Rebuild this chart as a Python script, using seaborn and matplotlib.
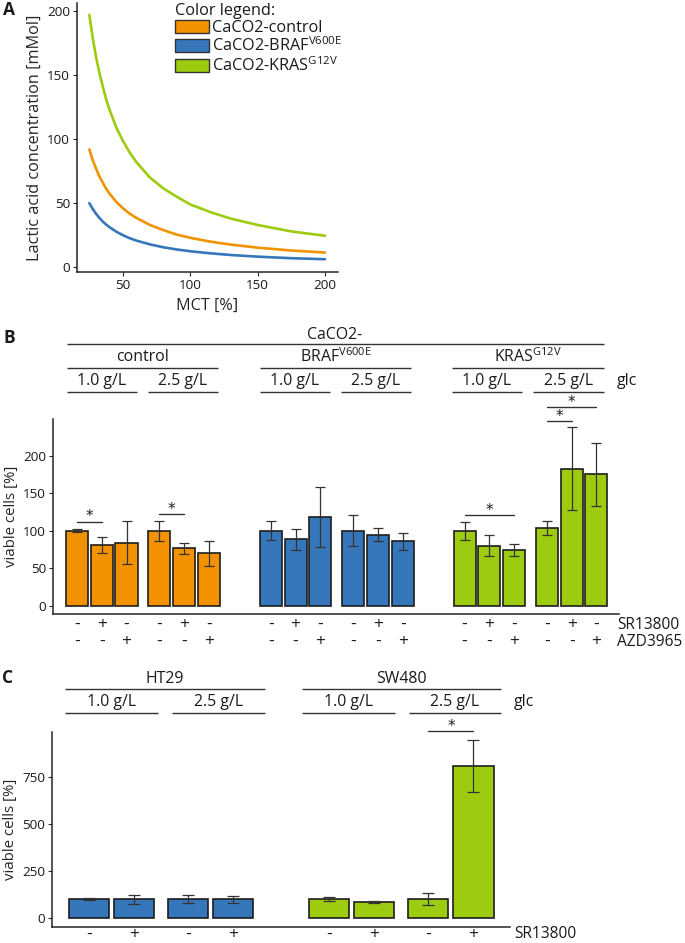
import numpy as np
import pandas as pd
import matplotlib
matplotlib.use("Agg")
import matplotlib.pyplot as plt
import matplotlib.transforms as mtrans
from matplotlib.patches import Patch
import seaborn as sns

# ---------------- data ----------------
# Panel A: lactic acid concentration vs MCT
mct = [25, 27.5, 30, 32.5, 35, 37.5, 40, 45, 50, 55, 60, 70, 80, 90, 100, 115, 130, 150, 175, 200]
lactate_control = [92, 83.6, 77, 70.8, 66, 61.3, 57.5, 51, 46, 41.8, 38.5, 33, 29, 25.5, 23, 20, 17.7, 15.3, 13.1, 11.5]
lactate_braf = [50, 45.5, 41.7, 38.5, 35.7, 33.3, 31.3, 27.8, 25, 22.7, 20.8, 17.9, 15.6, 13.9, 12.5, 10.9, 9.6, 8.3, 7.1, 6.3]
lactate_kras = [197, 179, 164, 151.5, 141, 131, 123, 109, 98.5, 89.5, 82, 70, 61.5, 55, 49, 43, 38, 33, 28, 24.6]
legend_labels = ["CaCO2-control", r"CaCO2-BRAF$^{\mathrm{V600E}}$", r"CaCO2-KRAS$^{\mathrm{G12V}}$"]

# Panel B: CaCO2 lines, 2 glucose levels x 3 treatments
lines_B = ["control", r"BRAF$^{\mathrm{V600E}}$", r"KRAS$^{\mathrm{G12V}}$"]
glc_levels = ["1.0 g/L", "2.5 g/L"]
sr13800_B = ["-", "+", "-"]
azd3965_B = ["-", "-", "+"]
viable_control = [100, 81, 84.5, 100, 77, 70]
sd_control = [2, 11, 29, 13, 7.5, 16.5]
viable_braf = [100, 89, 118.5, 100, 95, 86]
sd_braf = [12.5, 14, 40.5, 20.5, 9, 11]
viable_kras = [100, 80.5, 74.5, 104, 182.5, 175]
sd_kras = [12, 13.5, 7.5, 9, 55, 42.5]
# significant comparisons (bar indices within panel B)
sig_B = [(0, 1), (3, 4), (12, 14), (15, 16), (15, 17)]

# Panel C: HT29 and SW480
lines_C = ["HT29", "SW480"]
sr13800_C = ["-", "+"]
viable_ht29 = [100, 97, 99, 97]
sd_ht29 = [4, 23, 21, 18]
viable_sw480 = [100, 83, 99, 807]
sd_sw480 = [11, 7, 33, 140]
sig_C = [(6, 7)]

# ---------------- style ----------------
ORANGE, BLUE, GREEN = "#F39200", "#3677BC", "#9DCB10"
DARK = "#262626"
sns.set_style("ticks")
FONT = "Open Sans"
plt.rcParams["font.family"] = [FONT, "DejaVu Sans"]
plt.rcParams["mathtext.fontset"] = "custom"
plt.rcParams["mathtext.rm"] = FONT
plt.rcParams["mathtext.it"] = FONT + ":italic"
plt.rcParams["mathtext.bf"] = FONT + ":bold"
plt.rcParams["text.color"] = "#1a1a1a"

W, H = 685, 943
fig = plt.figure(figsize=(W / 100, H / 100), dpi=100)

LABEL = 11.7     # axis labels / legend
HEAD = 11.4      # header texts
TICK = 9.7       # tick labels
SIGN = 12.5      # +/- signs
DRUG = 11.2      # SR13800 / AZD3965


def box(x0, y0, x1, y1):
    return [x0 / W, 1 - y1 / H, (x1 - x0) / W, (y1 - y0) / H]


def fy(y):
    return 1 - y / H


def style_axes(ax):
    for s in ["top", "right"]:
        ax.spines[s].set_visible(False)
    for s in ["left", "bottom"]:
        ax.spines[s].set_color(DARK)
        ax.spines[s].set_linewidth(1.1)
    ax.tick_params(axis="both", length=3, width=0.8, color=DARK, pad=2,
                   labelsize=TICK, labelcolor="#1a1a1a")
    ax.grid(False)


# overlay in pixel coordinates for panel letters / headers
ov = fig.add_axes([0, 0, 1, 1], zorder=-1)
ov.set_xlim(0, W)
ov.set_ylim(H, 0)
ov.axis("off")


def hline(x0, x1, y, lw=1.0):
    ov.plot([x0, x1], [y, y], color="#333333", lw=lw, solid_capstyle="butt")


def ctext(x, y, s, size=HEAD, ha="center"):
    ov.text(x, y, s, ha=ha, va="center", fontsize=size)


for letter, (lx, ly) in {"A": (9, 10), "B": (9, 338), "C": (8, 678)}.items():
    ov.text(lx, ly, letter, ha="center", va="center", fontsize=12.5, fontweight="bold")

# ---------------- Panel A ----------------
axA = fig.add_axes(box(77, 3, 338, 272))
dfA = pd.DataFrame({
    "MCT": mct * 3,
    "lactate": lactate_control + lactate_braf + lactate_kras,
    "line": (["control"] * len(mct)) + (["braf"] * len(mct)) + (["kras"] * len(mct)),
})
sns.lineplot(data=dfA, x="MCT", y="lactate", hue="line",
             palette={"control": ORANGE, "braf": BLUE, "kras": GREEN},
             lw=1.9, legend=False, ax=axA)
axA.set_xlim(15.84, 209.65)
axA.set_ylim(-3.67, 206.2)
axA.set_xticks([50, 100, 150, 200])
axA.set_yticks([0, 50, 100, 150, 200])
axA.set_xlabel("MCT [%]", fontsize=LABEL, labelpad=4)
axA.set_ylabel("Lactic acid concentration [mMol]", fontsize=LABEL, labelpad=3)
style_axes(axA)
handles = [Patch(facecolor=c, edgecolor="#333333", lw=1.0, label=l)
           for c, l in zip([ORANGE, BLUE, GREEN], legend_labels)]
axA.legend(handles=handles, title="Color legend:", frameon=False, loc="upper left",
           bbox_to_anchor=(175 / W, fy(3)), bbox_transform=fig.transFigure,
           fontsize=LABEL, title_fontsize=LABEL, handlelength=2.1, handleheight=0.86,
           handletextpad=0.15, labelspacing=0.05, borderpad=0, borderaxespad=0,
           alignment="left")


# ---------------- helper for bar panels ----------------
def positions(n_cell, n_glc, n_trt, sub_step, cell_step):
    pos, x = [], 0.0
    for c in range(n_cell):
        for g in range(n_glc):
            for t in range(n_trt):
                pos.append(x)
                x += 1
            x += sub_step - 1
        x += cell_step - sub_step
    return pos


def bar_panel(ax, df, palette, width, capsize):
    sns.barplot(data=df, x="pos", y="viable", hue="line", palette=palette,
                native_scale=True, dodge=False, width=width, saturation=1,
                errorbar=None, edgecolor="#1e1e1e", linewidth=1.2,
                legend=False, ax=ax)
    ax.errorbar(df["pos"], df["viable"], yerr=df["sd"], fmt="none",
                ecolor="#333333", elinewidth=0.9, capsize=capsize, capthick=0.9, zorder=5)
    ax.set_xlabel("")
    ax.set_ylabel("viable cells [%]", fontsize=10.8, labelpad=3)
    ax.set_xticks([])


def sig(ax, x0, x1, y):
    ax.plot([x0, x1], [y, y], color="#333333", lw=1.0, clip_on=False)
    ax.annotate("*", xy=((x0 + x1) / 2, y), xytext=(0, 0.3), textcoords="offset points",
                ha="center", va="baseline", fontsize=11, family="DejaVu Sans",
                annotation_clip=False)


# ---------------- Panel B ----------------
posB = positions(3, 2, 3, 1.33, 2.5)
dfB = pd.DataFrame({
    "pos": posB,
    "viable": viable_control + viable_braf + viable_kras,
    "sd": sd_control + sd_braf + sd_kras,
    "line": ["control"] * 6 + ["braf"] * 6 + ["kras"] * 6,
})
axB = fig.add_axes(box(53, 419, 619, 614))
bar_panel(axB, dfB, {"control": ORANGE, "braf": BLUE, "kras": GREEN}, 0.89, 3.6)
axB.set_xlim(-0.97, 21.9)
axB.set_ylim(-10.6, 248.8)
axB.set_yticks([0, 50, 100, 150, 200])
style_axes(axB)
axB.tick_params(axis="x", length=0)
sig_levels_B = [112, 122.5, 121, 246, 264.5]
for (i, j), lev in zip(sig_B, sig_levels_B):
    sig(axB, posB[i], posB[j], lev)

tB = mtrans.blended_transform_factory(axB.transData, fig.transFigure)
for k, p in enumerate(posB):
    axB.text(p, fy(625), sr13800_B[k % 3], transform=tB, ha="center", va="center", fontsize=SIGN)
    axB.text(p, fy(642), azd3965_B[k % 3], transform=tB, ha="center", va="center", fontsize=SIGN)
ctext(617, 625, "SR13800", size=DRUG, ha="left")
ctext(617, 642, "AZD3965", size=DRUG, ha="left")

# headers B (pixel layout)
ctext(335, 335, "CaCO2-")
hline(67, 604, 344)
for name, (x0, x1) in zip(lines_B, [(67, 218), (260, 411), (452, 604)]):
    ctext((x0 + x1) / 2, 357, name)
    hline(x0, x1, 368)
sub_B = [(67, 137), (148, 218), (260, 330), (341, 411), (452, 522), (533, 604)]
for k, (x0, x1) in enumerate(sub_B):
    ctext((x0 + x1) / 2, 381, glc_levels[k % 2])
    hline(x0, x1, 392)
ctext(617, 381, "glc", ha="left")

# ---------------- Panel C ----------------
posC = positions(2, 2, 2, 1.2, 2.13)
dfC = pd.DataFrame({
    "pos": posC,
    "viable": viable_ht29 + viable_sw480,
    "sd": sd_ht29 + sd_sw480,
    "line": ["ht29"] * 4 + ["sw480"] * 4,
})
axC = fig.add_axes(box(52, 732, 510, 927))
bar_panel(axC, dfC, {"ht29": BLUE, "sw480": GREEN}, 0.89, 4.3)
axC.set_xlim(-0.82, 9.34)
axC.set_ylim(-49.5, 987.8)
axC.set_yticks([0, 250, 500, 750])
style_axes(axC)
axC.tick_params(axis="x", length=0)
for (i, j) in sig_C:
    sig(axC, posC[i], posC[j], 993)

tC = mtrans.blended_transform_factory(axC.transData, fig.transFigure)
for k, p in enumerate(posC):
    axC.text(p, fy(935), sr13800_C[k % 2], transform=tC, ha="center", va="center", fontsize=SIGN)
ctext(514, 934, "SR13800", size=DRUG, ha="left")

for name, (x0, x1) in zip(lines_C, [(65, 265), (302, 501)]):
    ctext((x0 + x1) / 2, 679, name)
    hline(x0, x1, 689)
sub_C = [(65, 158), (172, 265), (302, 395), (409, 501)]
for k, (x0, x1) in enumerate(sub_C):
    ctext((x0 + x1) / 2, 702, glc_levels[k % 2])
    hline(x0, x1, 713)
ctext(514, 702, "glc", ha="left")

fig.savefig("out.png", dpi=100)
